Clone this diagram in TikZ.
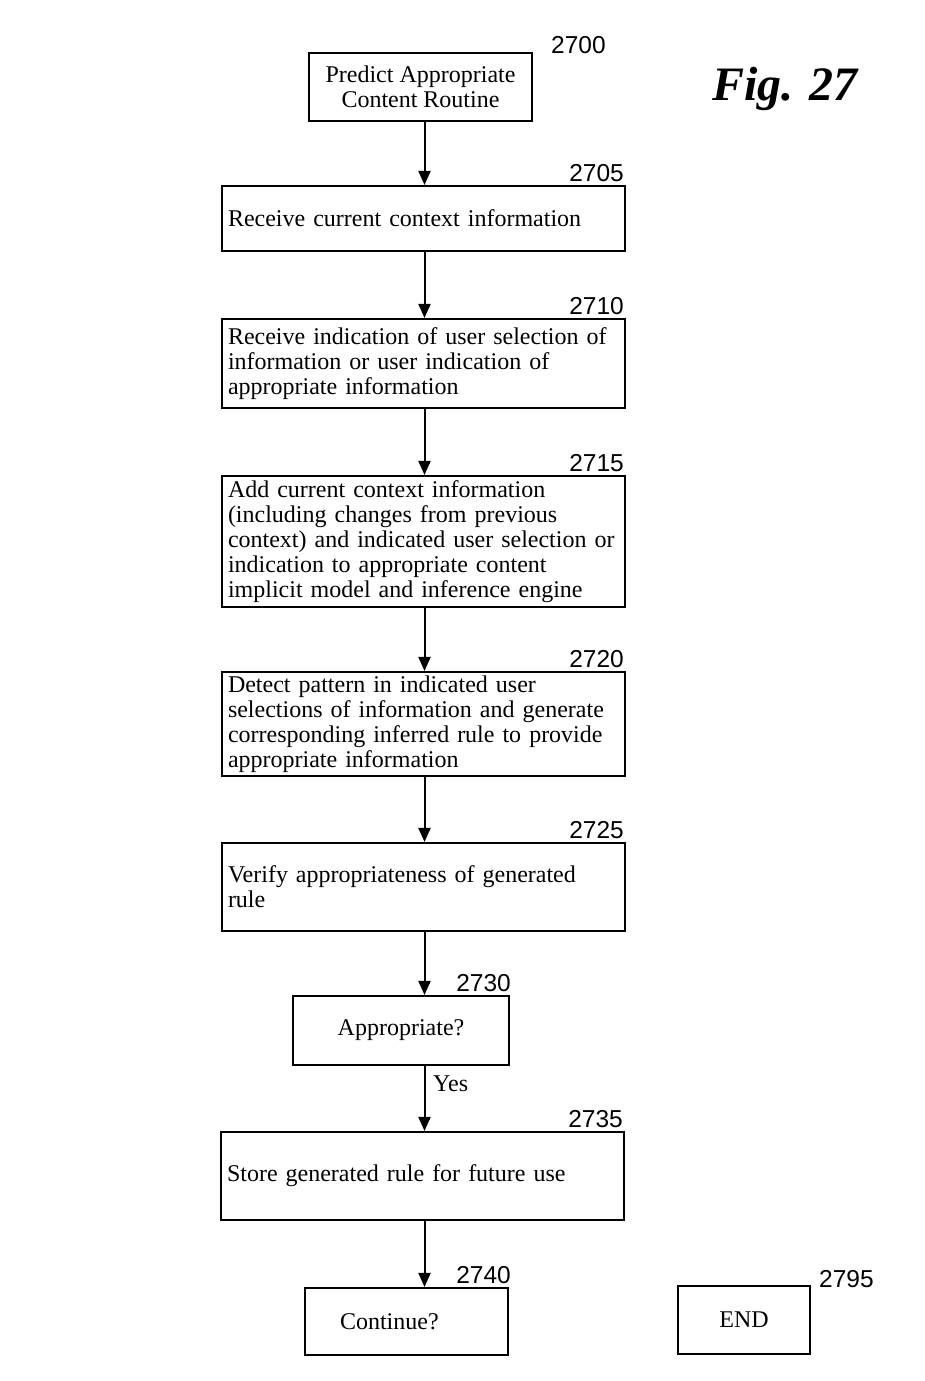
\documentclass[tikz,border=0pt]{standalone}
\usepackage{fontspec}
\setmainfont{Liberation Serif}
\newfontfamily\labelfont{Liberation Sans}
\usetikzlibrary{arrows.meta}
\begin{document}
\begin{tikzpicture}[x=1pt,y=-1pt,
  every node/.style={inner sep=0pt},
  box/.style={draw, line width=2.1pt, rectangle, font=\fontsize{24}{25}\selectfont},
  wide/.style={box, minimum width=403, text width=391, align=left, inner xsep=6},
  small/.style={box, align=center},
  num/.style={font=\labelfont\fontsize{24.5}{24.5}\selectfont},
  flow/.style={line width=2pt, -{Triangle[length=14pt,width=12pt]}}]
% page
\path[use as bounding box] (0,0) rectangle (925,1381);

% title
\node[font=\fontsize{48}{48}\selectfont\bfseries\itshape, anchor=base] (fig) at (785,100) {Fig. 27};

% process boxes
\node[small, minimum width=223, minimum height=68] (n2700) at (420.5,87)
  {Predict Appropriate\\Content Routine};
\node[wide, minimum height=65] (n2705) at (423.5,218.5)
  {Receive current context information};
\node[wide, minimum height=89] (n2710) at (423.5,363.5)
  {Receive indication of user selection of\\information or user indication of\\appropriate information};
\node[wide, minimum height=131] (n2715) at (423.5,541.5)
  {Add current context information\\(including changes from previous\\context) and indicated user selection or\\indication to appropriate content\\implicit model and inference engine};
\node[wide, minimum height=104] (n2720) at (423.5,724)
  {Detect pattern in indicated user\\selections of information and generate\\corresponding inferred rule to provide\\appropriate information};
\node[wide, minimum height=88] (n2725) at (423.5,887)
  {Verify appropriateness of generated\\rule};
\node[small, minimum width=216, minimum height=69] (n2730) at (401,1030.5)
  {Appropriate?};
\node[wide, minimum height=88] (n2735) at (422.5,1176)
  {Store generated rule for future use};
\node[box, minimum width=203, minimum height=67, text width=133, inner xsep=35, align=left] (n2740) at (406.5,1321.5)
  {Continue?};
\node[small, minimum width=132, minimum height=68] (n2795) at (744,1320)
  {END};

% reference numerals
\node[num, anchor=base west] (l2700) at (551,54) {2700};
\node[num, anchor=base east] (l2705) at ([xshift=-2,yshift=3]n2705.north east) {2705};
\node[num, anchor=base east] (l2710) at ([xshift=-2,yshift=3]n2710.north east) {2710};
\node[num, anchor=base east] (l2715) at ([xshift=-2,yshift=3]n2715.north east) {2715};
\node[num, anchor=base east] (l2720) at ([xshift=-2,yshift=3]n2720.north east) {2720};
\node[num, anchor=base east] (l2725) at ([xshift=-2,yshift=3]n2725.north east) {2725};
\node[num, anchor=base east] (l2730) at ([xshift=1,yshift=3]n2730.north east) {2730};
\node[num, anchor=base east] (l2735) at ([xshift=-2,yshift=3]n2735.north east) {2735};
\node[num, anchor=base east] (l2740) at ([xshift=2,yshift=3]n2740.north east) {2740};
\node[num, anchor=base west] (l2795) at (819,1287) {2795};

% connectors along the main axis
\coordinate (ax) at (424.5,0);
\draw[flow] (n2700.south -| ax) -- (n2705.north -| ax);
\draw[flow] (n2705.south -| ax) -- (n2710.north -| ax);
\draw[flow] (n2710.south -| ax) -- (n2715.north -| ax);
\draw[flow] (n2715.south -| ax) -- (n2720.north -| ax);
\draw[flow] (n2720.south -| ax) -- (n2725.north -| ax);
\draw[flow] (n2725.south -| ax) -- (n2730.north -| ax);
\draw[flow] (n2730.south -| ax) -- (n2735.north -| ax);
\draw[flow] (n2735.south -| ax) -- (n2740.north -| ax);

\node[font=\fontsize{24}{24}\selectfont, anchor=base west] (yes) at (433,1091) {Yes};
\end{tikzpicture}
\end{document}
